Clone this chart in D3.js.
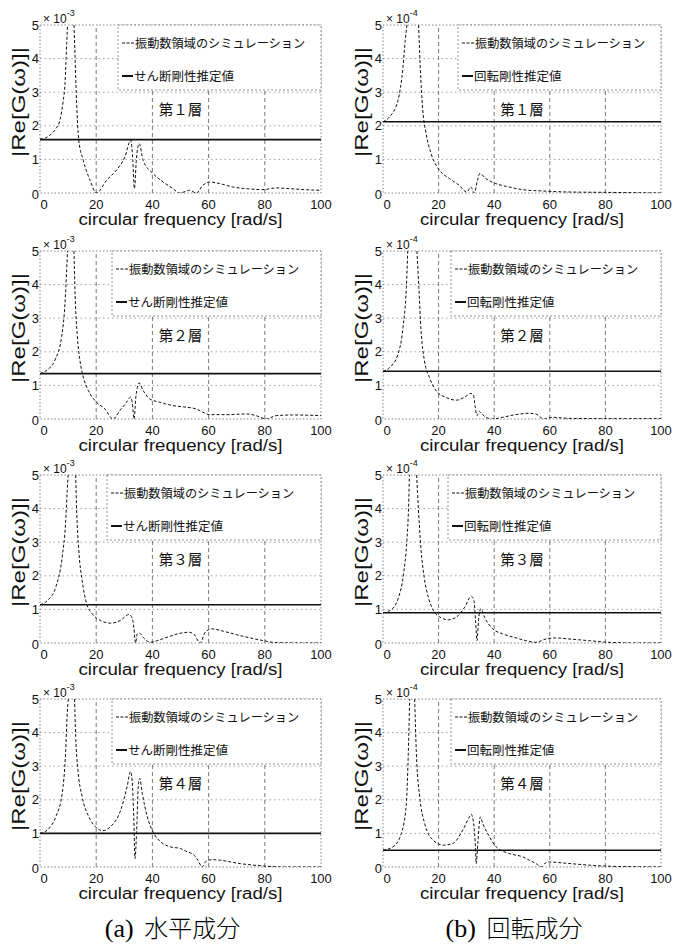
<!DOCTYPE html>
<html>
<head>
<meta charset="utf-8">
<script src="https://cdn.jsdelivr.net/npm/d3@7"></script>
<style>
  html, body { margin: 0; padding: 0; background: #fff; }
  svg { display: block; }
  .tick-label { font-family: "Liberation Sans", Arial, sans-serif; font-size: 13px; fill: #111; }
  .axis-title { font-family: "Liberation Sans", Arial, sans-serif; fill: #111; }
  .jp { font-family: "Noto Sans CJK JP", sans-serif; fill: #111; }
</style>
</head>
<body>
<svg id="chart" width="676" height="949"></svg>
<script>
// ---- data -----------------------------------------------------------
const freqTicks = [0, 20, 40, 60, 80, 100];
const ampTicks = [0, 1, 2, 3, 4, 5];
const layerNames = ["第１層", "第２層", "第３層", "第４層"];
const simLabel = "振動数領域のシミュレーション";
const shearLabel = "せん断剛性推定値";
const rotLabel = "回転剛性推定値";
const shearExponent = "-3";
const rotExponent = "-4";
const captions = ["(a) 水平成分", "(b) 回転成分"];

// identified stiffness (constant over frequency)
const shearEstimate = [1.59, 1.35, 1.14, 1.0];   // ×10^-3
const rotEstimate = [2.12, 1.42, 0.90, 0.50];    // ×10^-4

// frequency-domain simulation |Re[G(ω)]|, [rad/s, value]; null = off scale
const shearSim1 = [[0,1.6],[2,1.64],[3.5,1.72],[5.5,1.9],[7.1,2.17],[8.2,2.7],[8.9,3.26],[9.5,4.45],[9.8,5],null,
  [12.1,5],[12.4,4.25],[13,2.76],[13.8,1.57],[15.4,0.97],[17.8,0.38],[20.1,0],[23.7,0.38],[27.2,0.68],[30.2,1.07],
  [32.3,1.57],[33.0,1.0],[33.6,0.13],[34.3,1.0],[35.3,1.47],[36.7,0.97],[40.2,0.58],[43.8,0.33],[47.3,0.13],[49.7,0],
  [53.3,0.08],[55.6,0],[58,0.23],[60.4,0.33],[63.9,0.28],[68.6,0.18],[74.6,0.12],[79.3,0.1],[84,0.15],[88.8,0.13],
  [94,0.1],[100,0.08]];
const shearSim2 = [[0,1.35],[2.4,1.45],[5.3,1.75],[7.7,2.45],[8.9,3.45],[9.5,4.45],[9.8,5],null,
  [12.1,5],[12.4,3.95],[13.3,2.45],[14.2,1.75],[15.4,1.25],[17.2,0.85],[20.1,0.5],[23.1,0.3],[26,0],[28.4,0.25],
  [30.8,0.5],[32.2,0.65],[32.8,0.5],[33.5,0],[34.1,0.65],[35.3,1.07],[36.7,0.85],[39,0.6],[42.6,0.5],[47.3,0.4],
  [52.1,0.35],[55.6,0.3],[58,0.2],[60.4,0.13],[66.3,0.13],[73.4,0.15],[76.9,0.1],[80.5,0],[84,0.1],[89.9,0.12],[100,0.1]];
const shearSim3 = [[0,1.14],[2.6,1.26],[5.6,1.66],[7.9,2.56],[9.1,3.56],[9.7,4.55],[10,5],null,
  [12.7,5],[13,4.05],[13.8,2.76],[15,1.86],[16.6,1.17],[18.6,0.87],[21.5,0.67],[25.1,0.59],[28.6,0.67],[31.6,0.85],
  [32.8,0.75],[33.4,0.45],[34,0],[34.6,0.27],[35.5,0.29],[36.9,0.15],[39.3,0.02],[41.7,0.07],[45.2,0.17],[49.9,0.29],
  [52.9,0.32],[54.7,0.27],[57,0],[58.8,0.32],[61.2,0.42],[65.3,0.35],[71.2,0.22],[78.3,0.09],[84.3,0.01],[92.5,0],[100,0]];
const shearSim4 = [[0,1.0],[2.6,1.1],[5.6,1.49],[7.9,2.19],[9.1,3.39],[9.7,4.58],[10.1,5],null,
  [12.3,5],[12.7,3.88],[13.5,2.89],[15,2.09],[17.4,1.49],[20.4,1.15],[22.2,1.08],[25.1,1.2],[28.7,1.69],[31,2.39],
  [32.2,2.84],[32.8,2.55],[33.4,1.4],[33.8,0.25],[34.4,1.1],[35,2.45],[35.5,2.64],[36.4,2.19],[38.2,1.49],[40.5,1.0],
  [42.9,0.75],[46.4,0.6],[50,0.55],[52.4,0.45],[54.5,0.38],[56.2,0.2],[57.7,0],[59.2,0.18],[61.5,0.22],[64.2,0.2],
  [71.3,0.1],[79.6,0.03],[86.7,0],[100,0]];

const rotSim1 = [[0,2.12],[2.4,2.27],[5.4,2.76],[7.2,3.76],[8,4.55],[8.6,5],null,
  [12.8,5],[13.4,3.76],[14.3,2.47],[15.5,1.77],[17.3,1.17],[20.3,0.68],[23.9,0.43],[27.4,0.23],[30.1,0.03],[31.6,0.18],
  [32.8,0],[34,0.38],[34.8,0.58],[37,0.43],[40.6,0.28],[45.3,0.18],[50.1,0.1],[57.3,0.06],[66.8,0.03],[78.8,0.02],[100,0]];
const rotSim2 = [[0,1.42],[2.4,1.53],[5.4,1.93],[7.2,2.72],[8.4,3.91],[8.9,5],null,
  [12.2,5],[12.9,3.91],[13.7,2.62],[14.9,1.73],[16.7,1.24],[19.1,0.84],[22.7,0.64],[26.3,0.56],[29.2,0.64],[31.6,0.76],
  [32.5,0.72],[33.2,0.35],[33.8,0.1],[34.6,0.23],[35.4,0.17],[37,0.05],[39.4,0],[43,0.05],[47.7,0.13],[52.5,0.17],
  [54.9,0.15],[57.9,0],[60.9,0.05],[66.8,0.02],[78.8,0.01],[100,0.01]];
const rotSim3 = [[0,0.9],[2.6,0.97],[5.6,1.36],[7.4,2.06],[8.6,3.06],[9.2,4.05],[9.5,5],null,
  [12.1,5],[12.7,4.05],[13.6,2.86],[14.8,1.96],[16.3,1.36],[18.1,0.97],[20.5,0.77],[23.5,0.69],[26.4,0.77],[29.4,1.07],
  [31.8,1.39],[32.7,1.26],[33.3,0.67],[33.8,0.07],[34.5,0.8],[35.2,1.02],[36.5,0.77],[39.5,0.42],[43.1,0.27],[47.9,0.15],
  [51.4,0.07],[55,0.02],[58.6,0.12],[62.1,0.15],[66.9,0.12],[74,0.07],[81.2,0.02],[90.7,0],[100,0]];
const rotSim4 = [[0,0.5],[3.6,0.6],[6.6,1.0],[8.4,1.89],[9.1,3.39],[9.6,5],null,
  [11.4,5],[12.0,3.39],[13.2,2.09],[15,1.29],[18,0.8],[21.6,0.65],[25.1,0.7],[28.7,1.1],[31.1,1.49],[31.7,1.57],
  [32.6,1.3],[33.3,0.5],[33.5,0.1],[34.1,0.7],[35,1.49],[35.9,1.29],[38.3,0.9],[40.7,0.6],[45.5,0.4],[50.3,0.3],
  [52.7,0.2],[55.1,0.1],[56.9,0],[58.1,0.1],[59.9,0.15],[64.7,0.12],[71.9,0.07],[79,0.03],[100,0]];

const shearSims = [shearSim1, shearSim2, shearSim3, shearSim4];
const rotSims = [rotSim1, rotSim2, rotSim3, rotSim4];

// ---- layout ---------------------------------------------------------
const rowTops = [25, 251, 475, 699];
const plotH = 168;
const columns = [
  { x0: 40, x1: 321, sims: shearSims, est: shearEstimate, estLabel: shearLabel, exp: shearExponent,
    legendLeft: [118, 112, 107, 112], caption: captions[0] },
  { x0: 383, x1: 661, sims: rotSims, est: rotEstimate, estLabel: rotLabel, exp: rotExponent,
    legendLeft: [458, 451, 448, 451], caption: captions[1] }
];

const svg = d3.select("#chart");

columns.forEach(col => {
  rowTops.forEach((top, r) => {
    const x = d3.scaleLinear().domain([0, 100]).range([col.x0, col.x1]);
    const y = d3.scaleLinear().domain([0, 5]).range([top + plotH, top]);
    const g = svg.append("g");

    // grid
    g.append("g").selectAll("line").data(freqTicks.slice(1, -1)).join("line")
      .attr("x1", d => x(d)).attr("x2", d => x(d)).attr("y1", y(0)).attr("y2", y(5))
      .attr("stroke", "#555").attr("stroke-width", 0.8).attr("stroke-dasharray", "4,3");
    g.append("g").selectAll("line").data(ampTicks.slice(1, -1)).join("line")
      .attr("x1", x(0)).attr("x2", x(100)).attr("y1", d => y(d)).attr("y2", d => y(d))
      .attr("stroke", "#888").attr("stroke-width", 0.8).attr("stroke-dasharray", "1.5,3");

    // plot box
    g.append("rect").attr("x", x(0)).attr("y", y(5))
      .attr("width", x(100) - x(0)).attr("height", y(0) - y(5))
      .attr("fill", "none").attr("stroke", "#666").attr("stroke-width", 0.8)
      .attr("stroke-dasharray", "1.5,2");

    // tick labels (the two zeros at the corner are nudged apart)
    g.append("g").selectAll("text").data(freqTicks).join("text")
      .attr("class", "tick-label").attr("x", d => x(d) + (d === 0 ? 4 : 0)).attr("y", y(0) + 16)
      .attr("text-anchor", "middle").text(d => d);
    g.append("g").selectAll("text").data(ampTicks).join("text")
      .attr("class", "tick-label").attr("x", x(0) - 1)
      .attr("y", d => y(d) + 4.5 + (d === 0 ? 1 : 0))
      .attr("text-anchor", "end").text(d => d);

    // exponent marker
    const ex = g.append("text").attr("class", "tick-label").attr("x", x(0) + 3).attr("y", y(5) - 2);
    ex.append("tspan").attr("font-size", 12).text("× 10");
    ex.append("tspan").attr("font-size", 9).attr("dy", -7).text(col.exp);

    // axis titles
    g.append("text").attr("class", "axis-title")
      .attr("transform", `translate(${x(0) - 15},${top + plotH / 2 - 7}) rotate(-90)`)
      .attr("text-anchor", "middle").attr("font-size", 19)
      .attr("textLength", 110).attr("lengthAdjust", "spacingAndGlyphs")
      .text("|Re[G(ω)]|");
    g.append("text").attr("class", "axis-title")
      .attr("x", (x(0) + x(100)) / 2).attr("y", y(0) + 32)
      .attr("text-anchor", "middle").attr("font-size", 16)
      .attr("textLength", 204).attr("lengthAdjust", "spacingAndGlyphs")
      .text("circular frequency [rad/s]");

    const clipId = `clip-${col.x0}-${r}`;
    svg.append("clipPath").attr("id", clipId).append("rect")
      .attr("x", x(0)).attr("y", y(5)).attr("width", x(100) - x(0)).attr("height", y(0) - y(5));

    // simulation curve
    const line = d3.line().defined(d => d !== null)
      .x(d => x(d[0])).y(d => y(d[1])).curve(d3.curveMonotoneX);
    g.append("path").datum(col.sims[r]).attr("d", line)
      .attr("clip-path", `url(#${clipId})`)
      .attr("fill", "none").attr("stroke", "#111").attr("stroke-width", 1)
      .attr("stroke-dasharray", "3,2");

    // identified stiffness line
    g.append("line").attr("x1", x(0)).attr("x2", x(100))
      .attr("y1", y(col.est[r])).attr("y2", y(col.est[r]))
      .attr("stroke", "#111").attr("stroke-width", 1.6);

    // legend
    const lx = col.legendLeft[r];
    const lg = g.append("g");
    lg.append("rect").attr("x", lx).attr("y", y(5))
      .attr("width", x(100) - lx).attr("height", 65)
      .attr("fill", "#fff").attr("stroke", "#777").attr("stroke-width", 0.8)
      .attr("stroke-dasharray", "2,2");
    lg.append("line").attr("x1", lx + 4).attr("x2", lx + 17)
      .attr("y1", y(5) + 18).attr("y2", y(5) + 18)
      .attr("stroke", "#111").attr("stroke-width", 1).attr("stroke-dasharray", "3,1.5");
    lg.append("text").attr("class", "jp").attr("x", lx + 17).attr("y", y(5) + 22.5)
      .attr("font-size", 12.2).text(simLabel);
    lg.append("line").attr("x1", lx + 4).attr("x2", lx + 15)
      .attr("y1", y(5) + 51).attr("y2", y(5) + 51)
      .attr("stroke", "#111").attr("stroke-width", 2);
    lg.append("text").attr("class", "jp").attr("x", lx + 16).attr("y", y(5) + 55.5)
      .attr("font-size", 12.5).text(col.estLabel);

    // layer name
    g.append("text").attr("class", "jp").attr("x", x(50)).attr("y", y(2.47) + 5)
      .attr("text-anchor", "middle").attr("font-size", 14.5).text(layerNames[r]);
  });

  // column caption
  const cx = (col.x0 + col.x1) / 2 - 8;
  const cap = svg.append("text").attr("x", cx).attr("y", 937).attr("text-anchor", "middle");
  const parts = col.caption.split(" ");
  cap.append("tspan").attr("font-family", "'Liberation Serif', serif").attr("font-size", 26).text(parts[0] + " ");
  cap.append("tspan").attr("font-family", "'Noto Sans CJK JP', sans-serif").attr("font-weight", 300)
    .attr("font-size", 24).attr("dx", 4).text(parts[1]);
});
</script>
</body>
</html>
